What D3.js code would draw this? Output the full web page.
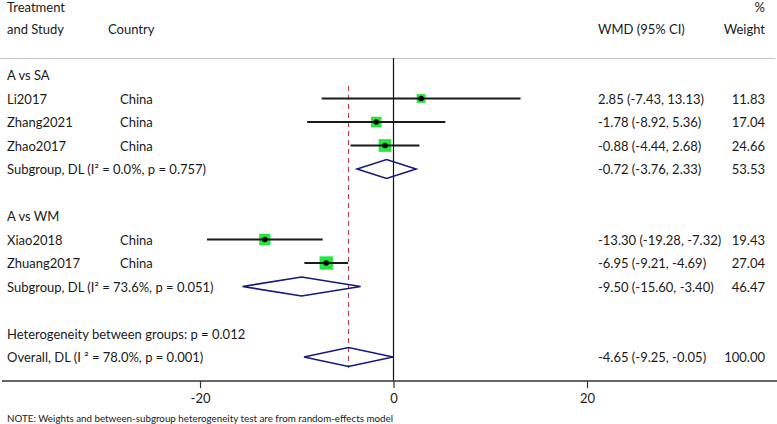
<!DOCTYPE html>
<html><head><meta charset="utf-8">
<script src="https://cdn.jsdelivr.net/npm/d3@7"></script>
<style>body{margin:0;background:#fff}svg{display:block}text{font-family:Lato,"Open Sans",sans-serif;fill:#1a1a1a}</style>
</head><body>
<svg id="c" width="777" height="424"></svg>
<script>
// ---- data ----
const studies = ["Li2017","Zhang2021","Zhao2017","Xiao2018","Zhuang2017"];
const countries = ["China","China","China","China","China"];
const groupOf = [0,0,0,1,1];
const wmd = [2.85,-1.78,-0.88,-13.30,-6.95];
const lower = [-7.43,-8.92,-4.44,-19.28,-9.21];
const upper = [13.13,5.36,2.68,-7.32,-4.69];
const weight = [11.83,17.04,24.66,19.43,27.04];

const groups = ["A vs SA","A vs WM"];
const subI2 = ["0.0%","73.6%"];
const subP = ["0.757","0.051"];
const subWmd = [-0.72,-9.50];
const subLower = [-3.76,-15.60];
const subUpper = [2.33,-3.40];
const subWeight = [53.53,46.47];

const hetP = "0.012";
const overallI2 = "78.0%", overallP = "0.001";
const overallWmd = -4.65, overallLower = -9.25, overallUpper = -0.05, overallWeight = 100.00;

const ticks = [-20,0,20];
const headers = {treat1:"Treatment", treat2:"and Study", country:"Country", est:"WMD (95% CI)", w1:"%", w2:"Weight"};
const note = "NOTE: Weights and between-subgroup heterogeneity test are from random-effects model";

// ---- layout ----
const svg = d3.select("#c");
const x = d3.scaleLinear().domain([-20,20]).range([200,587]);
const row = d3.scaleLinear().domain([0,12]).range([75,357]);
const boxSize = d3.scaleSqrt().domain([0,30]).range([0,14]);
const f2 = d3.format(".2f");
const fmt = v => f2(v).replace("\u2212","-");
const ci = (e,l,u)=>`${fmt(e)} (${fmt(l)}, ${fmt(u)})`;

// build rows
const rows = [];
let r = 0;
groups.forEach((g,gi)=>{
  rows.push({type:"group", label:g, r:r++});
  studies.forEach((s,i)=>{ if(groupOf[i]===gi) rows.push({type:"study", i, r:r++}); });
  rows.push({type:"sub", gi, r:r++});
  r++;
});
rows.push({type:"het", r:r++});
rows.push({type:"overall", r:r++});

const axisY = 381;
const txtX = 7, countryX = 120, estX = 598, wX = 765;
const fs = 13;

function t(str, xx, yy, anchor, size){
  return svg.append("text").attr("x",xx).attr("y",yy).attr("dominant-baseline","central")
    .attr("text-anchor",anchor||"start").attr("font-size",size||fs).text(str);
}

// header
t(headers.treat1, txtX, 7);
t(headers.treat2, txtX, 29);
t(headers.country, 108, 29);
t(headers.est, estX, 29);
t(headers.w1, wX, 7, "end");
t(headers.w2, wX, 29, "end");
svg.append("line").attr("x1",0).attr("x2",775).attr("y1",58.5).attr("y2",58.5).attr("stroke","#c4c4c4").attr("stroke-width",1.2);

// zero line
svg.append("line").attr("x1",x(0)).attr("x2",x(0)).attr("y1",58).attr("y2",axisY).attr("stroke","#111").attr("stroke-width",1.2);

// overall dashed line
svg.append("line").attr("x1",x(overallWmd)).attr("x2",x(overallWmd)).attr("y1",86).attr("y2",368)
  .attr("stroke","#b5474a").attr("stroke-width",1.2).attr("stroke-dasharray","5,4");

function diamond(e,l,u,yy){
  const h = 9.5;
  svg.append("path").attr("d",`M${x(l)},${yy}L${x(e)},${yy-h}L${x(u)},${yy}L${x(e)},${yy+h}Z`)
    .attr("fill","none").attr("stroke","#16197a").attr("stroke-width",1.6);
}

rows.forEach(d=>{
  const yy = row(d.r);
  if(d.type==="group"){ t(d.label, txtX, yy); }
  else if(d.type==="study"){
    const i=d.i;
    t(studies[i], txtX, yy);
    t(countries[i], countryX, yy);
    t(ci(wmd[i],lower[i],upper[i]), estX, yy);
    t(fmt(weight[i]), wX, yy, "end");
    const s = boxSize(weight[i]);
    svg.append("rect").attr("x",x(wmd[i])-s/2).attr("y",yy-s/2).attr("width",s).attr("height",s).attr("fill","#22e83a");
    svg.append("line").attr("x1",x(lower[i])).attr("x2",x(upper[i])).attr("y1",yy).attr("y2",yy).attr("stroke","#1a1a1a").attr("stroke-width",1.8);
    svg.append("circle").attr("cx",x(wmd[i])).attr("cy",yy).attr("r",2.8).attr("fill","#000");
  }
  else if(d.type==="sub"){
    const g=d.gi;
    t(`Subgroup, DL (I² = ${subI2[g]}, p = ${subP[g]})`, txtX, yy);
    t(ci(subWmd[g],subLower[g],subUpper[g]), estX, yy);
    t(fmt(subWeight[g]), wX, yy, "end");
    diamond(subWmd[g],subLower[g],subUpper[g],yy);
  }
  else if(d.type==="het"){ t(`Heterogeneity between groups: p = ${hetP}`, txtX, yy); }
  else if(d.type==="overall"){
    t(`Overall, DL (I ² = ${overallI2}, p = ${overallP})`, txtX, yy);
    t(ci(overallWmd,overallLower,overallUpper), estX, yy);
    t(fmt(overallWeight), wX, yy, "end");
    diamond(overallWmd,overallLower,overallUpper,yy);
  }
});

// axis
svg.append("line").attr("x1",2).attr("x2",777).attr("y1",axisY).attr("y2",axisY).attr("stroke","#333").attr("stroke-width",1.4);
const ax = svg.append("g").attr("transform",`translate(0,${axisY})`)
  .call(d3.axisBottom(x).tickValues(ticks).tickSize(7).tickFormat(v=>d3.format("d")(v).replace("\u2212","-")));
ax.select(".domain").remove();
ax.selectAll("line").attr("stroke","#333").attr("stroke-width",1.2);
ax.selectAll("text").attr("font-size",fs).attr("font-family","Lato").attr("fill","#1a1a1a").attr("dy",null).attr("y",17).attr("dominant-baseline","central");

t(note, txtX, 418, "start", 9.8);
</script>
</body></html>
